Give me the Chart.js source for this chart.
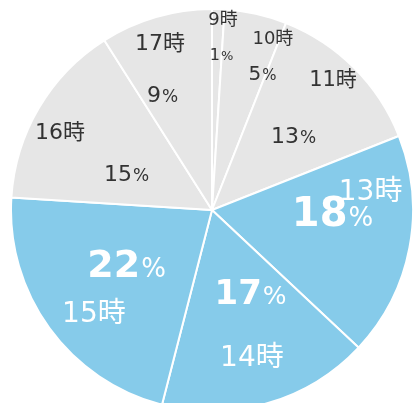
<!DOCTYPE html>
<html lang="ja">
<head>
<meta charset="utf-8">
<script src="https://cdn.jsdelivr.net/npm/chart.js@4.4.1/dist/chart.umd.min.js"></script>
<style>
    html, body { margin: 0; padding: 0; background: #fff; overflow: hidden; }
    #wrap { width: 414px; height: 403px; }
</style>
</head>
<body>
<div id="wrap"><canvas id="pieChart" width="414" height="403"></canvas></div>
<script>
// data
const hours = ['9時', '10時', '11時', '13時', '14時', '15時', '16時', '17時'];
const shares = [1, 5, 13, 18, 17, 22, 15, 9];
const highlighted = [false, false, false, true, true, true, false, false];

// label placement: [angle offset from slice middle (deg), fraction of radius]
const hourPlace = [[1.5, 0.952], [6.9, 0.908], [-2.5, 0.891], [-17.9, 0.795], [0.9, 0.753], [-4.8, 0.776], [-3.1, 0.852], [-1.0, 0.875]];
const pctPlace = [[1.5, 0.778], [7.45, 0.725], [2.2, 0.549], [-9.8, 0.597], [-8.7, 0.45], [4.4, 0.502], [-7.3, 0.466], [-7.1, 0.628]];
// font sizes: hour label, percent number, percent sign
const hourSize = [18, 18, 21, 28, 28, 28, 22, 22];
const numSize = [16, 20, 22, 40, 34, 38, 22, 22];
const signSize = [13, 15, 17, 26, 25, 26, 17, 17];

const GRAY = '#e6e6e6';
const BLUE = '#86cbea';
const DARK = '#333333';
const FONT = '"DejaVu Sans", "Noto Sans CJK JP", sans-serif';

const labelPlugin = {
    id: 'sliceLabels',
    afterDatasetsDraw(chart) {
        const ctx = chart.ctx;
        const meta = chart.getDatasetMeta(0);
        meta.data.forEach((arc, i) => {
            const p = arc.getProps(['x', 'y', 'startAngle', 'endAngle', 'outerRadius'], true);
            const mid = (p.startAngle + p.endAngle) / 2;
            const pos = (place) => {
                const a = mid + place[0] * Math.PI / 180;
                return { x: p.x + Math.cos(a) * p.outerRadius * place[1], y: p.y + Math.sin(a) * p.outerRadius * place[1] };
            };
            const color = highlighted[i] ? '#ffffff' : DARK;
            ctx.save();
            ctx.fillStyle = color;
            ctx.textBaseline = 'alphabetic';

            // hour label
            const h = pos(hourPlace[i]);
            ctx.font = `${hourSize[i]}px ${FONT}`;
            ctx.textAlign = 'center';
            ctx.fillText(hours[i], h.x, h.y + hourSize[i] * 0.36);

            // percent label
            const c = pos(pctPlace[i]);
            const numFont = `${highlighted[i] ? 'bold ' : ''}${numSize[i]}px ${FONT}`;
            const signFont = `${signSize[i]}px ${FONT}`;
            ctx.font = numFont;
            const wNum = ctx.measureText(String(shares[i])).width;
            ctx.font = signFont;
            const wSign = ctx.measureText('%').width;
            const left = c.x - (wNum + wSign) / 2;
            const base = c.y + numSize[i] * 0.36;
            ctx.textAlign = 'left';
            ctx.font = numFont;
            ctx.fillText(String(shares[i]), left, base);
            ctx.font = signFont;
            ctx.fillText('%', left + wNum + 1, base);
            ctx.restore();
        });
    }
};

new Chart(document.getElementById('pieChart'), {
    type: 'pie',
    data: {
        labels: hours,
        datasets: [{
            data: shares,
            backgroundColor: highlighted.map(b => b ? BLUE : GRAY),
            borderColor: '#ffffff',
            borderWidth: 2,
            clip: false
        }]
    },
    options: {
        responsive: false,
        animation: false,
        radius: 201,
        layout: { padding: { left: 10, top: 17, right: 0, bottom: 0 } },
        plugins: {
            legend: { display: false },
            tooltip: { enabled: false }
        }
    },
    plugins: [labelPlugin]
});
</script>
</body>
</html>
